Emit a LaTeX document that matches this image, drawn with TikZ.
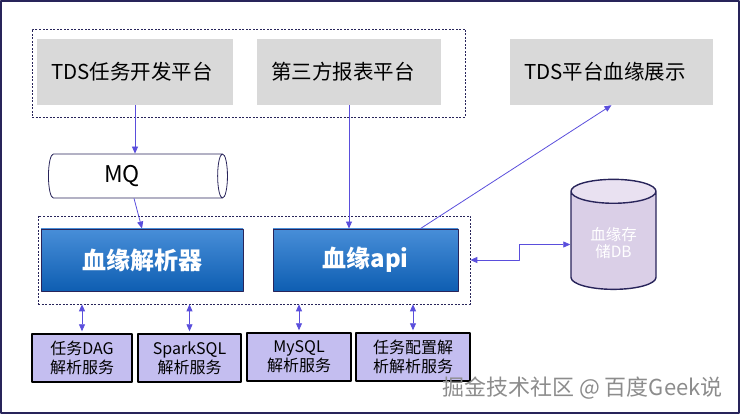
\documentclass[tikz,border=0pt]{standalone}
\usepackage{fontspec}
\setmainfont{Noto Sans CJK SC}
\usetikzlibrary{arrows.meta,shapes.geometric}
\definecolor{framenavy}{RGB}{40,36,90}
\definecolor{flowblue}{RGB}{90,78,220}
\definecolor{platgray}{RGB}{217,217,217}
\definecolor{parsetop}{RGB}{72,142,216}
\definecolor{parsebot}{RGB}{14,94,178}
\definecolor{svcfill}{RGB}{196,190,240}
\definecolor{dbbody}{RGB}{218,207,231}
\definecolor{dbtop}{RGB}{233,225,241}
\begin{document}
\begin{tikzpicture}[x=1pt,y=1pt,line join=round,
	>={Triangle[length=7pt,width=6pt]},
	platbox/.style={fill=platgray, minimum height=66pt, inner xsep=14pt, align=left, text width=#1, font=\fontsize{20.5}{24}\selectfont},
	group/.style={draw=framenavy, line width=0.7pt, dash pattern=on 2pt off 1.5pt},
	parser/.style={draw=framenavy, line width=0.9pt, top color=parsetop, bottom color=parsebot, text=white, minimum height=62pt, font=\fontsize{24}{28}\selectfont\bfseries},
	svcbox/.style={draw=black, line width=1.4pt, fill=svcfill, minimum height=48pt, align=center, inner sep=0pt, font=\fontsize{16}{19}\selectfont},
	flow/.style={draw=flowblue, line width=0.8pt, ->},
	biflow/.style={draw=flowblue, line width=0.8pt, <->}]
	\useasboundingbox (0,0) rectangle (740,-414);
	\draw[framenavy, line width=1.5pt] (1,-1) rectangle (739,-413);
	% upper platforms
	\node (topgroup) at (248.5, -73)	[group, minimum width=433pt, minimum height=88pt]	{};
	\node (tds) at (135, -72)	[platbox=168pt]	{TDS任务开发平台};
	\node (report) at (349, -72)	[platbox=156pt]	{第三方报表平台};
	\node (display) at (611.5, -72)	[platbox=175pt]	{TDS平台血缘展示};
	\node (mq) at (134, -176)	[cylinder, draw=framenavy, line width=0.8pt, fill=white, aspect=0.35, minimum width=44pt, minimum height=179pt, font=\fontsize{23}{26}\selectfont]	{MQ\hspace*{24pt}};
	% lineage core
	\node (midgroup) at (254, -260)	[group, minimum width=432pt, minimum height=88pt]	{};
	\node (lparser) at (142, -260)	[parser, minimum width=202pt]	{血缘解析器};
	\node (lapi) at (365.5, -260)	[parser, minimum width=185pt]	{血缘api};
	\node (db) at (613.5, -243)	[cylinder, shape border rotate=90, draw=framenavy, line width=1.4pt, cylinder uses custom fill, cylinder body fill=dbbody, cylinder end fill=dbtop, aspect=0.45, minimum width=85pt, minimum height=110pt, text=white, align=center, font=\fontsize{15.5}{17}\selectfont]	{血缘存\\储DB};
	% parsing services
	\node (svcdag) at (82, -358)	[svcbox, minimum width=100pt]	{任务DAG\\解析服务};
	\node (svcspark) at (189.5, -358)	[svcbox, minimum width=103pt]	{SparkSQL\\解析服务};
	\node (svcmysql) at (299, -357)	[svcbox, minimum width=104pt]	{MySQL\\解析服务};
	\node (svcconf) at (413, -357)	[svcbox, minimum width=114pt, align=left]	{任务配置解\\析解析服务};
	\node (wmark) at (582.5, -388)	[text=black!45, font=\fontsize{22}{26}\selectfont]	{掘金技术社区 @ 百度Geek说};
	% connectors
	\draw[flow] (tds.south) -- (tds.south |- mq.north);
	\draw[flow] (mq.south) -- (lparser.north);
	\draw[flow] (report.south) -- (report.south |- lapi.north);
	\draw[flow] ([xshift=55pt]lapi.north) -- (display.south);
	\draw[biflow] (midgroup.east) -- ++(49,0) |- ([yshift=-1.5pt]db.west);
	\draw[biflow, shorten <=2pt] (svcdag.north) -- (svcdag.north |- midgroup.south);
	\draw[biflow, shorten <=2pt] (svcspark.north) -- (svcspark.north |- midgroup.south);
	\draw[biflow, shorten <=2pt] (svcmysql.north) -- (svcmysql.north |- midgroup.south);
	\draw[biflow, shorten <=2pt] (svcconf.north) -- (svcconf.north |- midgroup.south);
\end{tikzpicture}
\end{document}
